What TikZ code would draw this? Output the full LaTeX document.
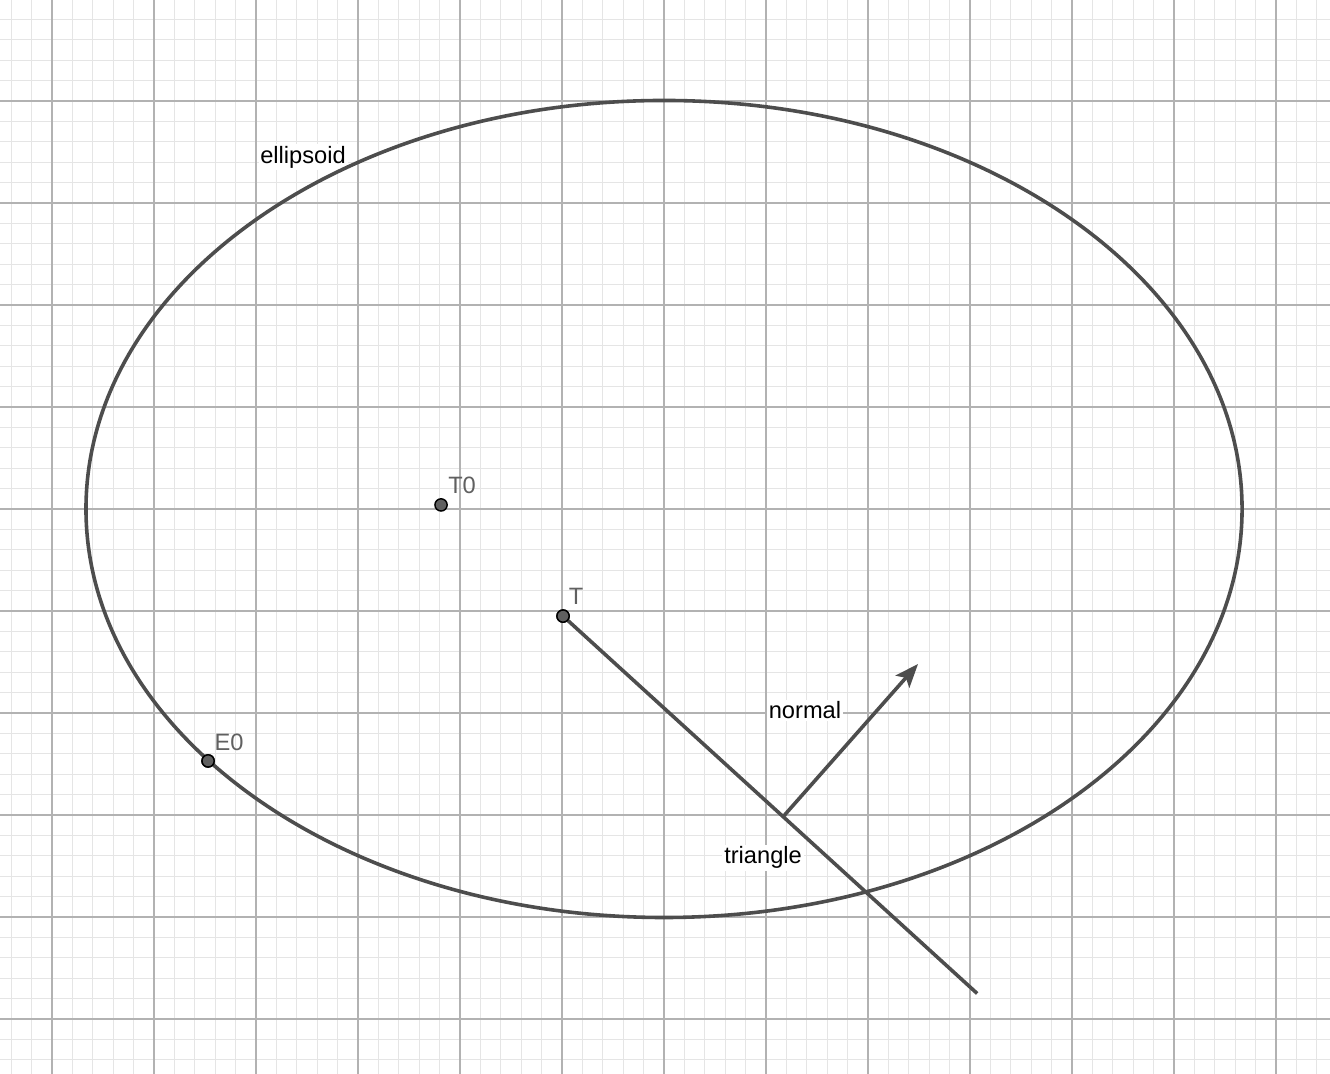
\documentclass[tikz,border=0pt]{standalone}
\usepackage{fontspec}
\setmainfont{Liberation Sans}
\usetikzlibrary{arrows.meta}
\definecolor{curvegray}{HTML}{4D4D4D}
\definecolor{pointgray}{HTML}{606060}
\tikzset{
	minorgrid/.style={draw=black!10,line width=0.35pt},
	majorgrid/.style={draw=black!30,line width=0.45pt},
	curve/.style={draw=curvegray,line width=1pt},
	pointdot/.style={draw=black,fill=pointgray,circle,inner sep=0pt,minimum size=0.12cm,line width=0.4pt},
	pointlabel/.style={text=pointgray,font=\fontsize{6.6}{7}\selectfont,inner sep=0.5pt},
	objlabel/.style={text=black,fill=white,font=\fontsize{6.6}{7}\selectfont,inner sep=0.5pt}
}
\begin{document}
\begin{tikzpicture}
	\useasboundingbox[fill=white] (-6.51,-5.539) rectangle (6.529,4.99);
	% grid
	\draw[minorgrid,step=0.2] (-6.6,-5.6) grid (6.6,5.1);
	\draw[majorgrid,step=1] (-6.6,-5.6) grid (6.6,5.1);
	% ellipsoid
	\node[objlabel] (ellipsoidlabel) at (-3.539,3.45) {ellipsoid};
	\draw[curve] (0,0) ellipse (5.667 and 4.005);
	% points
	\node[pointdot] (T0) at (-2.186,0.04) {};
	\node[pointdot] (T) at (-0.99,-1.05) {};
	\node[pointdot] (E0) at (-4.47,-2.47) {};
	\node[pointlabel] (T0label) at (-1.98,0.235) {T0};
	\node[pointlabel] (Tlabel) at (-0.863,-0.853) {T};
	\node[pointlabel] (E0label) at (-4.265,-2.284) {E0};
	% triangle and normal
	\coordinate (triangleend) at (3.07,-4.75);
	\coordinate (normalbase) at (1.167,-3.017);
	\coordinate (normaltip) at (2.49,-1.52);
	\draw[curve] (T.center) -- (triangleend);
	\draw[curve,-{Stealth[length=2.3mm,width=1.8mm,inset=0.5mm]}] (normalbase) -- (normaltip);
	\node[objlabel] (triangle) at (0.971,-3.42) {triangle};
	\node[objlabel] (normal) at (1.382,-1.975) {normal};
	% redraw dots on top
	\node[pointdot] at (T) {};
	\node[pointdot] at (E0) {};
\end{tikzpicture}
\end{document}
